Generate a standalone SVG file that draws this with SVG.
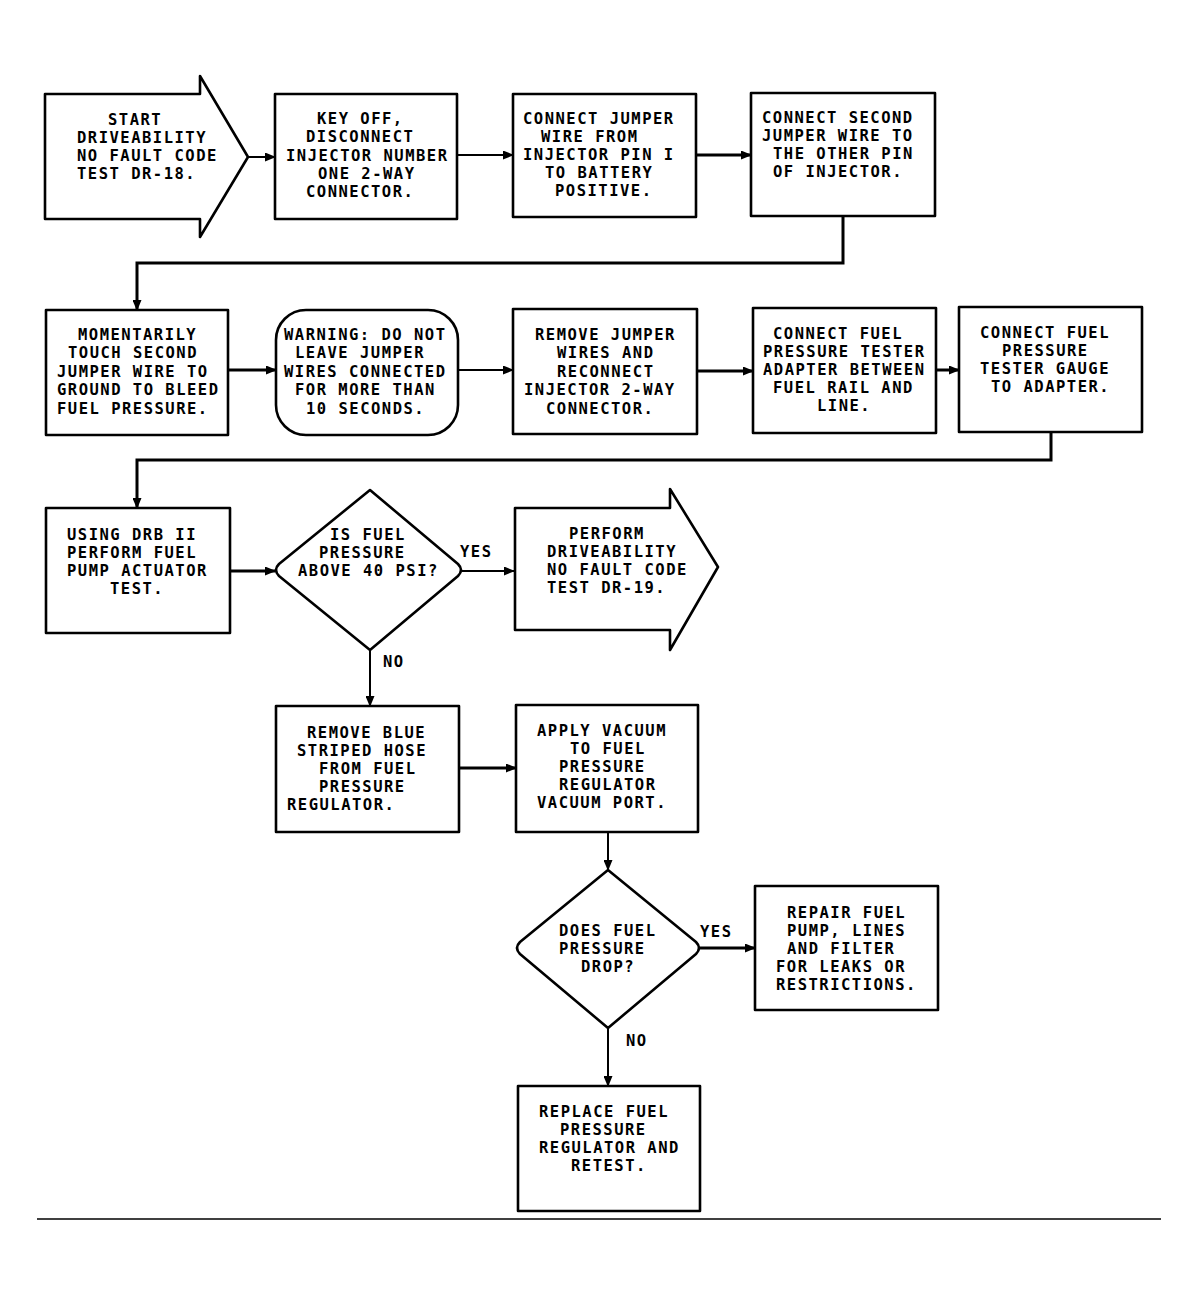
<svg xmlns="http://www.w3.org/2000/svg" width="1199" height="1295" viewBox="0 0 1199 1295">
<style>
.bx{fill:#fff;stroke:#000;stroke-width:2.6;stroke-linejoin:round}
.t{font-family:"DejaVu Sans Mono","Liberation Mono",monospace;font-size:15.5px;letter-spacing:1.5px;font-weight:bold;fill:#000}
.c{fill:none;stroke:#000;stroke-width:2;marker-end:url(#ah)}
.ck{fill:none;stroke:#000;stroke-width:3;marker-end:url(#ah)}
</style>
<defs>
<marker id="ah" markerUnits="userSpaceOnUse" markerWidth="11" markerHeight="9" refX="10" refY="4.5" orient="auto">
<path d="M0,0 L11,4.5 L0,9 z" fill="#000"/>
</marker>
</defs>
<rect width="1199" height="1295" fill="#fff"/>
<g id="connectors">
<path class="c" d="M248,157 H275"/>
<path class="c" d="M457,155 H513"/>
<path class="ck" d="M696,155 H751"/>
<path class="ck" d="M843,216 V263 H137 V310"/>
<path class="ck" d="M228,370 H276"/>
<path class="c" d="M458,370 H513"/>
<path class="ck" d="M697,371 H753"/>
<path class="ck" d="M936,370 H959"/>
<path class="ck" d="M1051,432 V460 H137 V508"/>
<path class="ck" d="M230,571 H275"/>
<path class="c" d="M462,571 H514"/>
<path class="c" d="M370,650 V706"/>
<path class="ck" d="M459,768 H516"/>
<path class="c" d="M608,832 V870"/>
<path class="ck" d="M700,948 H755"/>
<path class="c" d="M608,1028 V1086"/>
<text class="t" x="460" y="557">YES</text>
<text class="t" x="383" y="667">NO</text>
<text class="t" x="700" y="937">YES</text>
<text class="t" x="626" y="1046">NO</text>
</g>
<g id="n1">
<polygon class="bx" points="45,94 200,94 200,76 248,157 200,237 200,219 45,219"/>
<text class="t" x="108" y="125">START</text>
<text class="t" x="77" y="143">DRIVEABILITY</text>
<text class="t" x="77" y="161">NO FAULT CODE</text>
<text class="t" x="77" y="179">TEST DR-18.</text>
</g>
<g id="n2">
<rect class="bx" x="275" y="94" width="182" height="125"/>
<text class="t" x="317" y="124">KEY OFF,</text>
<text class="t" x="306" y="142">DISCONNECT</text>
<text class="t" x="286" y="160.5">INJECTOR NUMBER</text>
<text class="t" x="318" y="179">ONE 2-WAY</text>
<text class="t" x="306" y="197">CONNECTOR.</text>
</g>
<g id="n3">
<rect class="bx" x="513" y="94" width="183" height="123"/>
<text class="t" x="523" y="124">CONNECT JUMPER</text>
<text class="t" x="541" y="142">WIRE FROM</text>
<text class="t" x="523" y="160">INJECTOR PIN I</text>
<text class="t" x="545" y="178">TO BATTERY</text>
<text class="t" x="555" y="196">POSITIVE.</text>
</g>
<g id="n4">
<rect class="bx" x="751" y="93" width="184" height="123"/>
<text class="t" x="762" y="123">CONNECT SECOND</text>
<text class="t" x="762" y="141">JUMPER WIRE TO</text>
<text class="t" x="773" y="159">THE OTHER PIN</text>
<text class="t" x="773" y="177">OF INJECTOR.</text>
</g>
<g id="n5">
<rect class="bx" x="46" y="310" width="182" height="125"/>
<text class="t" x="78" y="340">MOMENTARILY</text>
<text class="t" x="68" y="358">TOUCH SECOND</text>
<text class="t" x="57" y="377">JUMPER WIRE TO</text>
<text class="t" x="57" y="395">GROUND TO BLEED</text>
<text class="t" x="57" y="414">FUEL PRESSURE.</text>
</g>
<g id="n6">
<rect class="bx" x="276" y="310" width="182" height="125" rx="30" ry="30"/>
<text class="t" x="284" y="340">WARNING: DO NOT</text>
<text class="t" x="295" y="358">LEAVE JUMPER</text>
<text class="t" x="284" y="377">WIRES CONNECTED</text>
<text class="t" x="295" y="395">FOR MORE THAN</text>
<text class="t" x="306" y="414">10 SECONDS.</text>
</g>
<g id="n7">
<rect class="bx" x="513" y="309" width="184" height="125"/>
<text class="t" x="535" y="340">REMOVE JUMPER</text>
<text class="t" x="557" y="358">WIRES AND</text>
<text class="t" x="557" y="377">RECONNECT</text>
<text class="t" x="524" y="395">INJECTOR 2-WAY</text>
<text class="t" x="546" y="414">CONNECTOR.</text>
</g>
<g id="n8">
<rect class="bx" x="753" y="308" width="183" height="125"/>
<text class="t" x="773" y="339">CONNECT FUEL</text>
<text class="t" x="763" y="357">PRESSURE TESTER</text>
<text class="t" x="763" y="375">ADAPTER BETWEEN</text>
<text class="t" x="773" y="393">FUEL RAIL AND</text>
<text class="t" x="817" y="411">LINE.</text>
</g>
<g id="n9">
<rect class="bx" x="959" y="307" width="183" height="125"/>
<text class="t" x="980" y="338">CONNECT FUEL</text>
<text class="t" x="1002" y="356">PRESSURE</text>
<text class="t" x="980" y="374">TESTER GAUGE</text>
<text class="t" x="991" y="392">TO ADAPTER.</text>
</g>
<g id="n10">
<rect class="bx" x="46" y="508" width="184" height="125"/>
<text class="t" x="67" y="540">USING DRB II</text>
<text class="t" x="67" y="558">PERFORM FUEL</text>
<text class="t" x="67" y="576">PUMP ACTUATOR</text>
<text class="t" x="110" y="594">TEST.</text>
</g>
<g id="n11">
<path class="bx" d="M370,490 L458,564 Q464,570 458,576 L370,650 L279,576 Q273,570 279,564 Z"/>
<text class="t" x="330" y="540">IS FUEL</text>
<text class="t" x="319" y="558">PRESSURE</text>
<text class="t" x="298" y="576">ABOVE 40 PSI?</text>
</g>
<g id="n12">
<polygon class="bx" points="515,508 670,508 670,489 718,567 670,650 670,630 515,630"/>
<text class="t" x="569" y="539">PERFORM</text>
<text class="t" x="547" y="557">DRIVEABILITY</text>
<text class="t" x="547" y="575">NO FAULT CODE</text>
<text class="t" x="547" y="593">TEST DR-19.</text>
</g>
<g id="n13">
<rect class="bx" x="276" y="706" width="183" height="126"/>
<text class="t" x="307" y="738">REMOVE BLUE</text>
<text class="t" x="297" y="756">STRIPED HOSE</text>
<text class="t" x="319" y="774">FROM FUEL</text>
<text class="t" x="319" y="792">PRESSURE</text>
<text class="t" x="287" y="810">REGULATOR.</text>
</g>
<g id="n14">
<rect class="bx" x="516" y="705" width="182" height="127"/>
<text class="t" x="537" y="736">APPLY VACUUM</text>
<text class="t" x="570" y="754">TO FUEL</text>
<text class="t" x="559" y="772">PRESSURE</text>
<text class="t" x="559" y="790">REGULATOR</text>
<text class="t" x="537" y="808">VACUUM PORT.</text>
</g>
<g id="n15">
<path class="bx" d="M608,870 L696,942 Q702,948 696,954 L608,1028 L520,954 Q514,948 520,942 Z"/>
<text class="t" x="559" y="936">DOES FUEL</text>
<text class="t" x="559" y="954">PRESSURE</text>
<text class="t" x="581" y="972">DROP?</text>
</g>
<g id="n16">
<rect class="bx" x="755" y="886" width="183" height="124"/>
<text class="t" x="787" y="918">REPAIR FUEL</text>
<text class="t" x="787" y="936">PUMP, LINES</text>
<text class="t" x="787" y="954">AND FILTER</text>
<text class="t" x="776" y="972">FOR LEAKS OR</text>
<text class="t" x="776" y="990">RESTRICTIONS.</text>
</g>
<g id="n17">
<rect class="bx" x="518" y="1086" width="182" height="125"/>
<text class="t" x="539" y="1117">REPLACE FUEL</text>
<text class="t" x="560" y="1135">PRESSURE</text>
<text class="t" x="539" y="1153">REGULATOR AND</text>
<text class="t" x="571" y="1171">RETEST.</text>
</g>
<line x1="37" y1="1219" x2="1161" y2="1219" stroke="#000" stroke-width="1.5"/>
</svg>
